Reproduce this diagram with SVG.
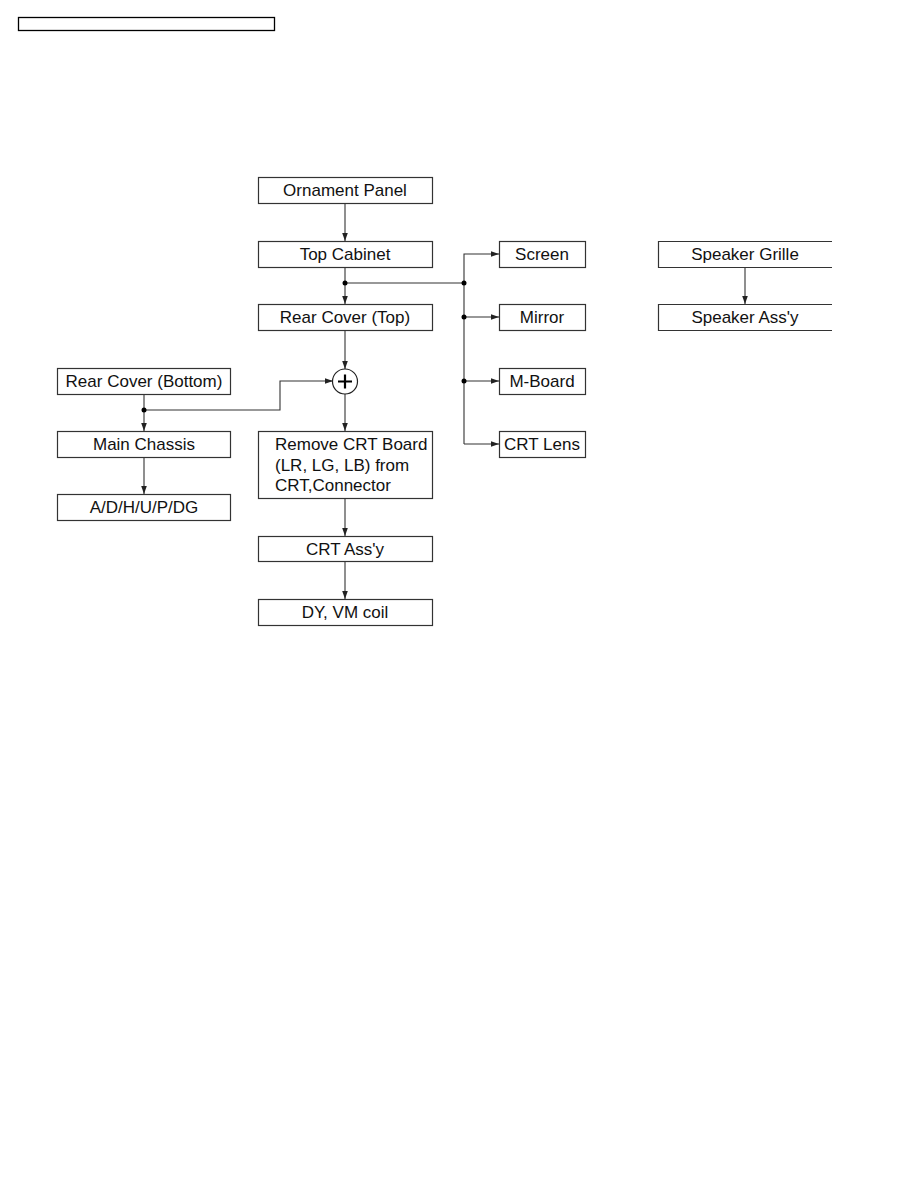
<svg xmlns="http://www.w3.org/2000/svg" width="918" height="1188" viewBox="0 0 918 1188">
<style>
.box{fill:#fff;stroke:#333;stroke-width:1.2}
.t{font-family:"Liberation Sans",Arial,sans-serif;font-size:17px;fill:#111;text-anchor:middle}
.tl{font-family:"Liberation Sans",Arial,sans-serif;font-size:17px;fill:#111}
.ln{fill:none;stroke:#333;stroke-width:1.1}
.dot{fill:#000}
</style>
<defs>
<marker id="ah" viewBox="0 0 10 10" refX="10" refY="5" markerWidth="8" markerHeight="8" markerUnits="userSpaceOnUse" orient="auto">
<path d="M0,1.5 L10,5 L0,8.5 z" fill="#222"/>
</marker>
</defs>
<rect width="918" height="1188" fill="#fff"/>
<rect x="18.5" y="17.5" width="256" height="13" fill="none" stroke="#000" stroke-width="1.3"/>

<g id="connectors">
<line class="ln" x1="345" y1="203" x2="345" y2="241" marker-end="url(#ah)"/>
<line class="ln" x1="345" y1="267" x2="345" y2="304" marker-end="url(#ah)"/>
<line class="ln" x1="345" y1="283" x2="464" y2="283"/>
<polyline class="ln" points="464,444 464,254 499,254" marker-end="url(#ah)"/>
<line class="ln" x1="464" y1="317" x2="499" y2="317" marker-end="url(#ah)"/>
<line class="ln" x1="464" y1="381" x2="499" y2="381" marker-end="url(#ah)"/>
<line class="ln" x1="464" y1="444" x2="499" y2="444" marker-end="url(#ah)"/>
<line class="ln" x1="345" y1="330" x2="345" y2="369" marker-end="url(#ah)"/>
<line class="ln" x1="345" y1="394" x2="345" y2="431" marker-end="url(#ah)"/>
<line class="ln" x1="144" y1="394" x2="144" y2="431" marker-end="url(#ah)"/>
<polyline class="ln" points="144,410 280,410 280,381 333,381" marker-end="url(#ah)"/>
<line class="ln" x1="144" y1="457" x2="144" y2="494" marker-end="url(#ah)"/>
<line class="ln" x1="345" y1="498" x2="345" y2="536" marker-end="url(#ah)"/>
<line class="ln" x1="345" y1="561" x2="345" y2="599" marker-end="url(#ah)"/>
<line class="ln" x1="745" y1="267" x2="745" y2="304" marker-end="url(#ah)"/>
<circle class="dot" cx="345" cy="283" r="2.5"/>
<circle class="dot" cx="464" cy="283" r="2.5"/>
<circle class="dot" cx="464" cy="317" r="2.5"/>
<circle class="dot" cx="464" cy="381" r="2.5"/>
<circle class="dot" cx="144" cy="410" r="2.5"/>
</g>

<g id="ornament-panel"><rect class="box" x="258.5" y="177.5" width="174" height="26"/><text class="t" x="345" y="196">Ornament Panel</text></g>
<g id="top-cabinet"><rect class="box" x="258.5" y="241.5" width="174" height="26"/><text class="t" x="345" y="260">Top Cabinet</text></g>
<g id="rear-cover-top"><rect class="box" x="258.5" y="304.5" width="174" height="26"/><text class="t" x="345" y="323">Rear Cover (Top)</text></g>
<g id="plus-junction"><circle cx="345" cy="381.5" r="12.5" fill="#fff" stroke="#222" stroke-width="1.2"/><path d="M338,381.5 H352 M345,374.5 V388.5" stroke="#000" stroke-width="2.2" fill="none"/></g>
<g id="remove-crt-board"><rect class="box" x="258.5" y="431.5" width="174" height="67"/><text class="tl" x="275" y="450">Remove CRT Board</text><text class="tl" x="275" y="471">(LR, LG, LB) from</text><text class="tl" x="275" y="491">CRT,Connector</text></g>
<g id="crt-assy"><rect class="box" x="258.5" y="536.5" width="174" height="25"/><text class="t" x="345" y="555">CRT Ass'y</text></g>
<g id="dy-vm-coil"><rect class="box" x="258.5" y="599.5" width="174" height="26"/><text class="t" x="345" y="618">DY, VM coil</text></g>

<g id="rear-cover-bottom"><rect class="box" x="57.5" y="368.5" width="173" height="26"/><text class="t" x="144" y="387">Rear Cover (Bottom)</text></g>
<g id="main-chassis"><rect class="box" x="57.5" y="431.5" width="173" height="26"/><text class="t" x="144" y="450">Main Chassis</text></g>
<g id="adhupdg"><rect class="box" x="57.5" y="494.5" width="173" height="26"/><text class="t" x="144" y="513">A/D/H/U/P/DG</text></g>

<g id="screen"><rect class="box" x="499.5" y="241.5" width="86" height="26"/><text class="t" x="542" y="260">Screen</text></g>
<g id="mirror"><rect class="box" x="499.5" y="304.5" width="86" height="26"/><text class="t" x="542" y="323">Mirror</text></g>
<g id="m-board"><rect class="box" x="499.5" y="368.5" width="86" height="26"/><text class="t" x="542" y="387">M-Board</text></g>
<g id="crt-lens"><rect class="box" x="499.5" y="431.5" width="86" height="26"/><text class="t" x="542" y="450">CRT Lens</text></g>

<g id="speaker-grille"><path class="box" d="M832,241.5 H658.5 V267.5 H832"/><text class="t" x="745" y="260">Speaker Grille</text></g>
<g id="speaker-assy"><path class="box" d="M832,304.5 H658.5 V330.5 H832"/><text class="t" x="745" y="323">Speaker Ass'y</text></g>
</svg>
